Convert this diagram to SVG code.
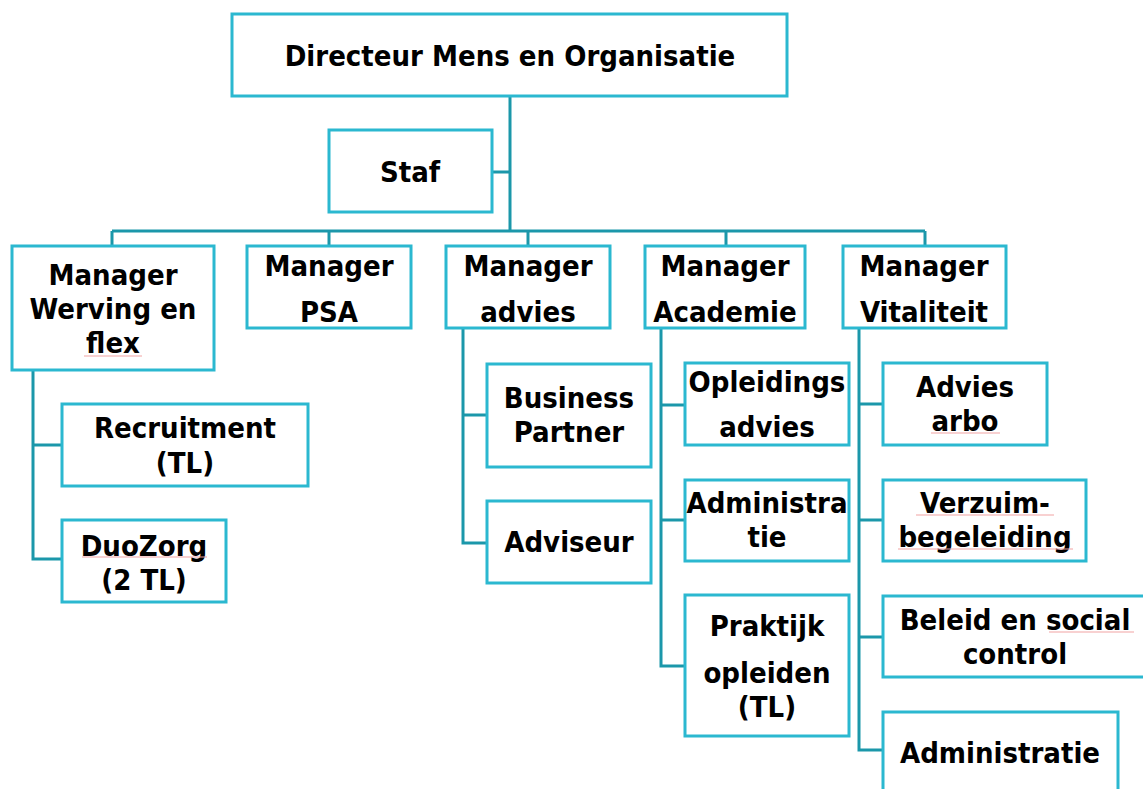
<svg xmlns="http://www.w3.org/2000/svg" width="1143" height="789" viewBox="0 0 1143 789">
<style>
.box{fill:#fff;stroke:#2bb8d0;stroke-width:3}
.ln{fill:none;stroke:#1b97aa;stroke-width:3}
.t{font-family:'DejaVu Sans Condensed','DejaVu Sans',sans-serif;font-weight:bold;font-size:29px;fill:#000;text-anchor:middle}
.sq{stroke:#f2a3a3;stroke-width:1.2;fill:none}
</style>
<rect width="1143" height="789" fill="#fff"/>
<g id="connectors">
<path class="ln" d="M510 96V231M492 172H510M112 231H925M112 231V246M329 231V246M528 231V246M726 231V246M925 231V246"/>
<path class="ln" d="M33 370V559H62M33 445H62"/>
<path class="ln" d="M463 328V543H487M463 415H487"/>
<path class="ln" d="M661 328V666H685M661 405H685M661 520H685"/>
<path class="ln" d="M859 328V750H883M859 404H883M859 520H883M859 637H883"/>
</g>
<g id="n-directeur"><rect class="box" x="232" y="14" width="555" height="82"/><text class="t" x="510" y="66">Directeur Mens en Organisatie</text></g>
<g id="n-staf"><rect class="box" x="329" y="130" width="163" height="82"/><text class="t" x="410" y="182">Staf</text></g>
<g id="n-werving"><rect class="box" x="12" y="246" width="202" height="124"/><text class="t" x="113" y="285">Manager</text><text class="t" x="113" y="319">Werving en</text><text class="t" x="113" y="353">flex</text><path class="sq" d="M84 356H142"/></g>
<g id="n-psa"><rect class="box" x="247" y="246" width="164" height="82"/><text class="t" x="329" y="276">Manager</text><text class="t" x="329" y="322">PSA</text></g>
<g id="n-advies"><rect class="box" x="446" y="246" width="164" height="82"/><text class="t" x="528" y="276">Manager</text><text class="t" x="528" y="322">advies</text></g>
<g id="n-academie"><rect class="box" x="645" y="246" width="160" height="82"/><text class="t" x="725" y="276">Manager</text><text class="t" x="725" y="322">Academie</text></g>
<g id="n-vitaliteit"><rect class="box" x="843" y="246" width="163" height="82"/><text class="t" x="924" y="276">Manager</text><text class="t" x="924" y="322">Vitaliteit</text></g>
<g id="n-recruitment"><rect class="box" x="62" y="404" width="246" height="82"/><text class="t" x="185" y="438">Recruitment</text><text class="t" x="185" y="473">(TL)</text></g>
<g id="n-duozorg"><rect class="box" x="62" y="520" width="164" height="82"/><text class="t" x="144" y="556">DuoZorg</text><text class="t" x="144" y="590">(2 TL)</text><path class="sq" d="M82 557H207"/></g>
<g id="n-bp"><rect class="box" x="487" y="364" width="164" height="103"/><text class="t" x="569" y="408">Business</text><text class="t" x="569" y="442">Partner</text></g>
<g id="n-adviseur"><rect class="box" x="487" y="501" width="164" height="82"/><text class="t" x="569" y="552">Adviseur</text></g>
<g id="n-opleidings"><rect class="box" x="685" y="363" width="164" height="82"/><text class="t" x="767" y="392">Opleidings</text><text class="t" x="767" y="437">advies</text></g>
<g id="n-administra"><rect class="box" x="685" y="480" width="164" height="81"/><text class="t" x="767" y="513">Administra</text><text class="t" x="767" y="547">tie</text></g>
<g id="n-praktijk"><rect class="box" x="685" y="595" width="164" height="141"/><text class="t" x="767" y="636">Praktijk</text><text class="t" x="767" y="683">opleiden</text><text class="t" x="767" y="717">(TL)</text></g>
<g id="n-arbo"><rect class="box" x="883" y="363" width="164" height="82"/><text class="t" x="965" y="397">Advies</text><text class="t" x="965" y="431">arbo</text><path class="sq" d="M931 433H1000"/></g>
<g id="n-verzuim"><rect class="box" x="883" y="480" width="203" height="81"/><text class="t" x="985" y="513">Verzuim-</text><text class="t" x="985" y="547">begeleiding</text><path class="sq" d="M916 515H1054M898 549H1073"/></g>
<g id="n-beleid"><rect class="box" x="883" y="596" width="268" height="81"/><text class="t" x="1015" y="630">Beleid en social</text><text class="t" x="1015" y="664">control</text><path class="sq" d="M1049 632H1134"/></g>
<g id="n-administratie"><rect class="box" x="883" y="712" width="235" height="90"/><text class="t" x="1000" y="763">Administratie</text></g>
</svg>
